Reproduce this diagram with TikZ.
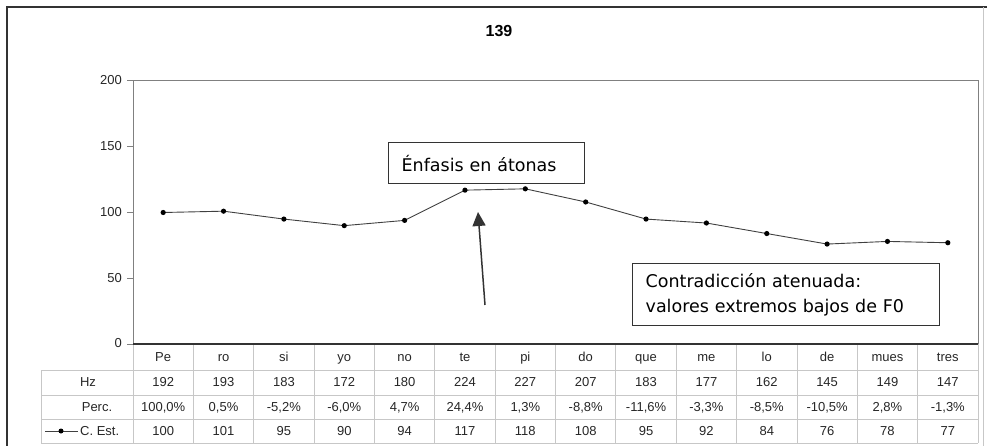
\documentclass[tikz,border=0pt]{standalone}
\usepackage{fontspec}
\setmainfont{Liberation Sans}
\newfontfamily\notefont{DejaVu Sans}
\usepackage{tikz}
\usetikzlibrary{arrows.meta}
\definecolor{frame_dark}{rgb}{0.2, 0.2, 0.2}
\definecolor{axis_gray}{rgb}{0.5, 0.5, 0.5}
\definecolor{grid_gray}{rgb}{0.78, 0.78, 0.78}
\definecolor{text_gray}{rgb}{0.15, 0.15, 0.15}
\tikzset{
  tabtext/.style={font=\fontsize{13}{15}\selectfont, text=text_gray, inner sep=0pt, text height=10pt, text depth=2pt},
  note/.style={draw=frame_dark, line width=1.3pt, font=\notefont\fontsize{17.5}{25}\selectfont, align=left, inner xsep=13pt},
  series/.style={line width=0.9pt, draw=black!75}
}

\begin{document}
\begin{tikzpicture}[x=1pt, y=-1pt]
    \useasboundingbox (0,0) rectangle (988,446);
    % frame of the page
    \draw[frame_dark, line width=2.2pt] (7,446) -- (7,7) -- (987,7);
    \draw[grid_gray, line width=0.8pt] (983,7) -- (983,446);
    \node[font=\bfseries\fontsize{16}{18}\selectfont] (title) at (499,31) {139};

    % plot area and y axis
    \draw[axis_gray, line width=1pt] (133,344) -- (133,81) -- (978,81) -- (978,344);
    \foreach \v in {0,50,...,200} {
        \draw[axis_gray, line width=1pt] (127,{344-1.315*\v}) -- (133,{344-1.315*\v});
        \node[tabtext, anchor=east] (ylab\v) at (122,{344-1.315*\v}) {\v};
    }

    % data table
    \draw[grid_gray, line width=0.8pt] (41,370) -- (978,370) (41,395) -- (978,395)
        (41,419) -- (978,419) (41,443) -- (978,443) (41,370) -- (41,443) (133,344) -- (133,443);
    \foreach \k in {1,...,14}
        \draw[grid_gray, line width=0.8pt] ({133+60.357*\k},344) -- ({133+60.357*\k},443);
    \draw[black!80, line width=1.2pt] (133,344) -- (978,344);

    \node[tabtext] (rowhz) at (88,382) {Hz};
    \node[tabtext] (rowperc) at (97,407) {Perc.};
    \node[tabtext, anchor=west] (rowest) at (80,431) {C. Est.};
    \coordinate (keya) at (45,431);
    \coordinate (keydot) at (61,431);
    \coordinate (keyb) at (78,431);
    \draw[series] (keya) -- (keyb);
    \fill[black] (keydot) circle (2.5pt);

    \foreach \syl/\hz/\perc/\est [count=\i] in {Pe/192/{100,0\%}/100, ro/193/{0,5\%}/101,
        si/183/{-5,2\%}/95, yo/172/{-6,0\%}/90, no/180/{4,7\%}/94, te/224/{24,4\%}/117,
        pi/227/{1,3\%}/118, do/207/{-8,8\%}/108, que/183/{-11,6\%}/95, me/177/{-3,3\%}/92,
        lo/162/{-8,5\%}/84, de/145/{-10,5\%}/76, mues/149/{2,8\%}/78, tres/147/{-1,3\%}/77} {
        \node[tabtext] (syl\i) at ({133+60.357*(\i-0.5)},357) {\syl};
        \node[tabtext] (hz\i) at ({133+60.357*(\i-0.5)},382) {\hz};
        \node[tabtext] (perc\i) at ({133+60.357*(\i-0.5)},407) {\perc};
        \node[tabtext] (est\i) at ({133+60.357*(\i-0.5)},431) {\est};
        \coordinate (p\i) at ({133+60.357*(\i-0.5)},{344-1.315*\est});
    }

    % curve
    \foreach \i [remember=\i as \j (initially 1)] in {2,...,14}
        \draw[series] (p\j) -- (p\i);
    \foreach \i in {1,...,14}
        \fill[black] (p\i) circle (2.6pt);

    % notes
    \node[note, anchor=north west, text width=170pt, minimum height=41pt] (enfasis) at (388,142) {Énfasis en átonas};
    \node[note, anchor=north west, text width=281pt, minimum height=62pt] (contra) at (632,263)
        {Contradicción atenuada:\\valores extremos bajos de F0};
    \coordinate (arrowtail) at (485,305);
    \coordinate (arrowtip) at (478,212);
    \draw[frame_dark, line width=1.5pt, -{Triangle[width=13pt,length=14pt]}] (arrowtail) -- (arrowtip);
\end{tikzpicture}
\end{document}
